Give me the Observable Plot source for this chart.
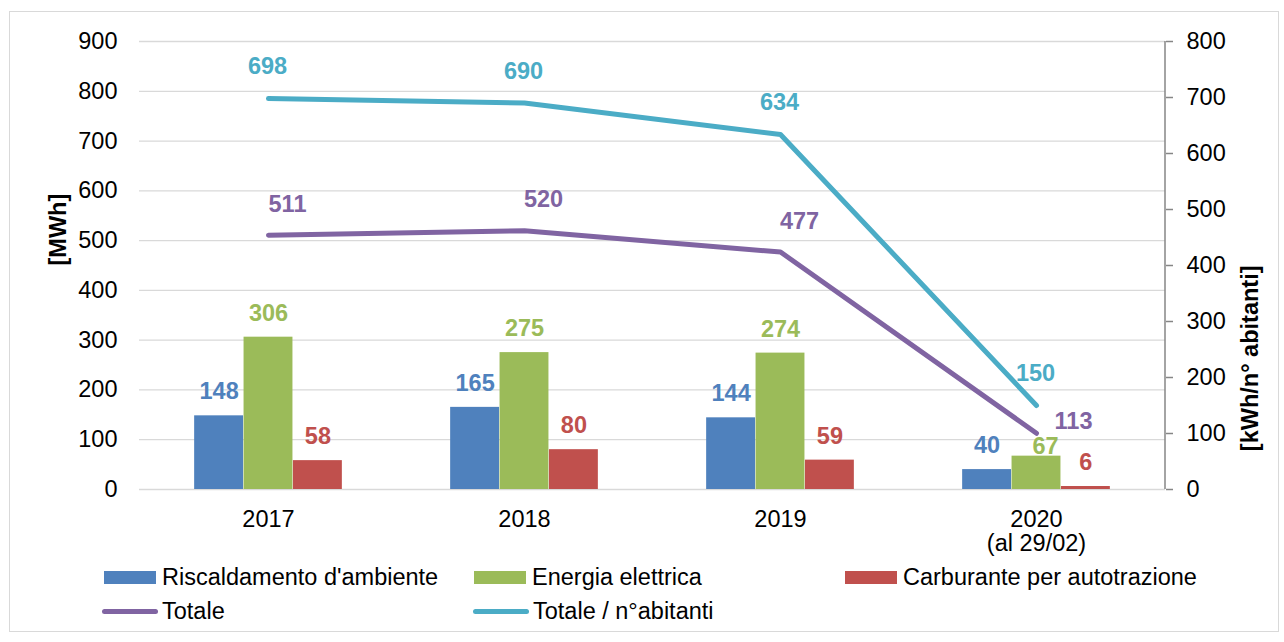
<!DOCTYPE html>
<html>
<head>
<meta charset="utf-8">
<script src="https://cdn.jsdelivr.net/npm/d3@7"></script>
<script src="https://cdn.jsdelivr.net/npm/@observablehq/plot@0.6"></script>
<style>
  html, body { margin: 0; padding: 0; background: #fff; }
  body { width: 1284px; height: 642px; position: relative; overflow: hidden; font-family: "Liberation Sans", Arial, sans-serif; }
  #frame { position: absolute; left: 9px; top: 11px; width: 1270px; height: 621px; border: 1.5px solid #d9d9d9; box-sizing: border-box; }
  #chart { position: absolute; left: 0; top: 0; }
  .leg { position: absolute; height: 30px; display: flex; align-items: center; font-size: 23.5px; color: #000; white-space: nowrap; }
  .sw { display: inline-block; width: 52px; margin-right: 6px; }
</style>
</head>
<body>
<div id="frame"></div>
<div id="chart"></div>
<div id="legend"></div>
<script>
// ---- data ----
const years = ["2017", "2018", "2019", "2020"];
const yearLabels = ["2017", "2018", "2019", "2020\n(al 29/02)"];
const riscaldamento = [148, 165, 144, 40];
const energiaElettrica = [306, 275, 274, 67];
const carburante = [58, 80, 59, 6];
const totale = [511, 520, 477, 113];
const totalePerAbitante = [698, 690, 634, 150];
const leftTicks = [0, 100, 200, 300, 400, 500, 600, 700, 800, 900];
const rightTicks = [0, 100, 200, 300, 400, 500, 600, 700, 800];
const seriesNames = ["Riscaldamento d'ambiente", "Energia elettrica", "Carburante per autotrazione", "Totale", "Totale / n°abitanti"];
const leftTitle = "[MWh]";
const rightTitle = "[kWh/n° abitanti]";

// ---- styles ----
const colors = ["#4F81BD", "#9BBB59", "#C0504D", "#8064A2", "#4BACC6"];
const FONT = "Liberation Sans, Arial, sans-serif";
const FS = 23.5;
const k = 900 / 800; // right axis -> left axis
const bandW = (1284 - 139 - 119) / years.length;
const barW = 49.4;
const inset = (bandW - barW) / 2;

const table = (arr) => years.map((year, i) => ({year, value: arr[i]}));
const barSeries = [riscaldamento, energiaElettrica, carburante].map(table);
const tot = table(totale);
const totAb = table(totalePerAbitante).map(d => ({...d, scaled: d.value * k}));

const marks = [
  Plot.gridY(leftTicks, {stroke: "#d9d9d9", strokeOpacity: 1, strokeWidth: 1.3})
];
barSeries.forEach((data, s) => {
  const dx = (s - 1) * barW;
  marks.push(Plot.barY(data, {x: "year", y: "value", fill: colors[s], insetLeft: inset, insetRight: inset, dx}));
});
// right axis line
marks.push((index, scales, values, dims) => {
  const ln = document.createElementNS("http://www.w3.org/2000/svg", "line");
  const xr = dims.width - dims.marginRight;
  ln.setAttribute("x1", xr); ln.setAttribute("x2", xr);
  ln.setAttribute("y1", dims.marginTop); ln.setAttribute("y2", dims.height - dims.marginBottom);
  ln.setAttribute("stroke", "#868686"); ln.setAttribute("stroke-width", 1.5);
  return ln;
});
marks.push(
  Plot.line(tot, {x: "year", y: "value", stroke: colors[3], strokeWidth: 5, strokeLinecap: "round", strokeLinejoin: "round"}),
  Plot.line(totAb, {x: "year", y: "scaled", stroke: colors[4], strokeWidth: 5, strokeLinecap: "round", strokeLinejoin: "round"})
);
// bar labels
barSeries.forEach((data, s) => {
  const dx = (s - 1) * barW;
  const isSpecial = (d) => s === 1 && d.year === "2020";
  marks.push(Plot.text(data.filter(d => !isSpecial(d)), {x: "year", y: "value", text: d => String(d.value), dx, dy: -24, fill: colors[s], fontWeight: "bold", fontSize: FS, fontFamily: FONT}));
  marks.push(Plot.text(data.filter(isSpecial), {x: "year", y: "value", text: d => String(d.value), dx: dx + 9, dy: -10, fill: colors[s], fontWeight: "bold", fontSize: FS, fontFamily: FONT}));
});
// line labels
marks.push(
  Plot.text(tot.slice(0, 3), {x: "year", y: "value", text: d => String(d.value), dx: 19, dy: -31, fill: colors[3], fontWeight: "bold", fontSize: FS, fontFamily: FONT}),
  Plot.text(tot.slice(3), {x: "year", y: "value", text: d => String(d.value), dx: 37, dy: -12, fill: colors[3], fontWeight: "bold", fontSize: FS, fontFamily: FONT}),
  Plot.text(totAb, {x: "year", y: "scaled", text: d => String(d.value), dx: -1, dy: -32, fill: colors[4], fontWeight: "bold", fontSize: FS, fontFamily: FONT})
);
// axes
marks.push(
  Plot.axisY(leftTicks, {anchor: "left", tickSize: 0, tickPadding: 22, fontSize: FS, fontFamily: FONT, fill: "#000", label: null}),
  Plot.axisY(rightTicks.map(v => v * k), {anchor: "right", tickSize: 7, tickPadding: 14, stroke: "#868686", strokeWidth: 1.5, fill: "#000", fontSize: FS, fontFamily: FONT, tickFormat: d => String(Math.round(d / k)), label: null}),
  Plot.axisX({tickSize: 0, tickPadding: 21, fontSize: FS, fontFamily: FONT, fill: "#000", lineHeight: 1, tickFormat: d => yearLabels[years.indexOf(d)], label: null}),
  Plot.text([leftTitle], {frameAnchor: "left", dx: -81, rotate: -90, fontWeight: "bold", fontSize: FS, fontFamily: FONT, fill: "#000"}),
  Plot.text([rightTitle], {frameAnchor: "right", dx: 85, rotate: -90, fontWeight: "bold", fontSize: FS, fontFamily: FONT, fill: "#000"})
);

const chart = Plot.plot({
  width: 1284,
  height: 560,
  marginLeft: 139,
  marginRight: 119,
  marginTop: 41,
  marginBottom: 71,
  style: {fontFamily: FONT, fontSize: FS + "px", background: "transparent", color: "#000"},
  x: {type: "band", domain: years, padding: 0, axis: null},
  y: {domain: [0, 900], axis: null},
  marks
});
document.getElementById("chart").appendChild(chart);

// legend
const legend = document.getElementById("legend");
const legPos = [[104, 562], [474, 562], [845, 562], [102, 596], [473, 596]];
seriesNames.forEach((name, i) => {
  const item = document.createElement("div");
  item.className = "leg";
  item.style.left = legPos[i][0] + "px";
  item.style.top = legPos[i][1] + "px";
  const sw = document.createElement("span");
  sw.className = "sw";
  if (i < 3) {
    sw.style.height = "13px";
    sw.style.background = colors[i];
  } else {
    sw.style.height = "5px";
    sw.style.width = "56px";
    sw.style.borderRadius = "3px";
    sw.style.marginRight = "4px";
    sw.style.background = colors[i];
  }
  item.appendChild(sw);
  const t = document.createElement("span");
  t.textContent = name;
  item.appendChild(t);
  legend.appendChild(item);
});
</script>
</body>
</html>
